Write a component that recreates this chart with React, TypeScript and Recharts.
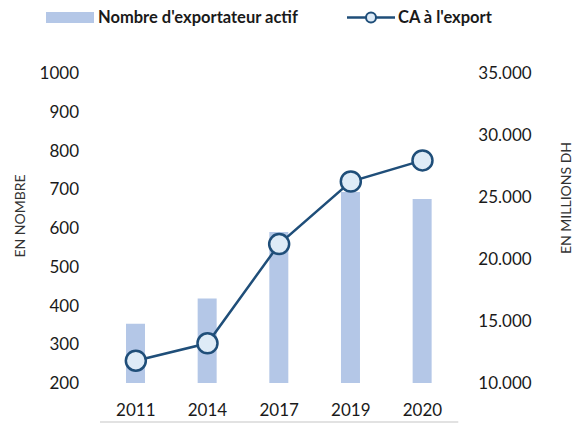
import React from 'react';
import { ComposedChart, Bar, Line, XAxis, YAxis, Label } from 'recharts';

const years = ['2011', '2014', '2017', '2019', '2020'];
const exporterCounts = [353, 418, 590, 693, 675];
const exportRevenue = [11800, 13200, 21200, 26250, 27950];
const leftTicks = [200, 300, 400, 500, 600, 700, 800, 900, 1000];
const rightTicks = [10000, 15000, 20000, 25000, 30000, 35000];
const boundaryTicks = [0, 1, 2, 3, 4, 5];

const barLabel = "Nombre d'exportateur actif";
const lineLabel = "CA à l'export";
const leftTitle = 'EN NOMBRE';
const rightTitle = 'EN MILLIONS DH';

const data = years.map((year, i) => ({
  year,
  exporters: exporterCounts[i],
  revenue: exportRevenue[i],
}));

const FONT = 'Lato, "Open Sans", sans-serif';
const BAR = '#B4C7E7';
const LINE = '#1F4E79';
const DOT = '#DEEBF7';
const AXIS = '#D9D9D9';
const TEXT = '#1a1a1a';

const fmtThousands = (v: number) => {
  const s = String(v);
  return s.replace(/\B(?=(\d{3})+(?!\d))/g, '.');
};

const LegendBox = () => (
  <svg width={574} height={30} style={{ position: 'absolute', left: 0, top: 0 }}>
    <rect x={46} y={12} width={48} height={11} fill={BAR} />
    <text x={98} y={23} fontFamily={FONT} fontWeight={700} fontSize={16.5} fill={TEXT}>
      {barLabel}
    </text>
    <line x1={347} y1={17.5} x2={395} y2={17.5} stroke={LINE} strokeWidth={2.5} />
    <circle cx={371} cy={17.5} r={5} fill={DOT} stroke={LINE} strokeWidth={2} />
    <text x={398} y={23} fontFamily={FONT} fontWeight={700} fontSize={16.5} fill={TEXT}>
      {lineLabel}
    </text>
  </svg>
);

const LeftTitle = (props: any) => {
  const vb = props.viewBox || {};
  const cx = vb.x + 19;
  const cy = vb.y + vb.height / 2 - 12;
  return (
    <text
      x={cx}
      y={cy}
      transform={`rotate(-90, ${cx}, ${cy})`}
      textAnchor="middle"
      dominantBaseline="central"
      fontFamily={FONT}
      fontSize={14}
      fill="#333"
    >
      {leftTitle}
    </text>
  );
};

const RightTitle = (props: any) => {
  const vb = props.viewBox || {};
  const cx = vb.x + vb.width - 9;
  const cy = vb.y + vb.height / 2 - 30;
  return (
    <text
      x={cx}
      y={cy}
      transform={`rotate(-90, ${cx}, ${cy})`}
      textAnchor="middle"
      dominantBaseline="central"
      fontFamily={FONT}
      fontSize={14}
      fill="#333"
    >
      {rightTitle}
    </text>
  );
};

export default function App() {
  return (
    <div style={{ position: 'absolute', left: 0, top: 0, width: 574, height: 423, background: '#fff' }}>
      <LegendBox />
      <ComposedChart
        width={574}
        height={423}
        data={data}
        margin={{ top: 73, right: 0, left: 0, bottom: 0 }}
        barCategoryGap={0}
      >
        <XAxis
          xAxisId="frame"
          type="number"
          domain={[0, years.length]}
          ticks={boundaryTicks}
          allowDataOverflow
          tick={false}
          tickSize={7}
          tickLine={{ stroke: AXIS, strokeWidth: 1.5 }}
          axisLine={{ stroke: AXIS, strokeWidth: 1.5 }}
          height={1}
        />
        <XAxis
          dataKey="year"
          axisLine={false}
          tickLine={false}
          tickSize={0}
          tickMargin={21}
          height={39}
          tick={{ fontFamily: FONT, fontSize: 17, fill: TEXT }}
        />
        <YAxis
          yAxisId="left"
          orientation="left"
          width={100}
          domain={[200, 1000]}
          ticks={leftTicks}
          axisLine={false}
          tickLine={false}
          tickSize={0}
          tickMargin={21}
          tick={{ fontFamily: FONT, fontSize: 17, fill: TEXT }}
        >
          <Label content={<LeftTitle />} />
        </YAxis>
        <YAxis
          yAxisId="right"
          orientation="right"
          width={115.7}
          domain={[10000, 35000]}
          ticks={rightTicks}
          axisLine={false}
          tickLine={false}
          tickSize={0}
          tickMargin={20}
          tickFormatter={fmtThousands}
          tick={{ fontFamily: FONT, fontSize: 17, fill: TEXT }}
        >
          <Label content={<RightTitle />} />
        </YAxis>
        <Bar yAxisId="left" dataKey="exporters" fill={BAR} barSize={19} isAnimationActive={false} />
        <Line
          yAxisId="right"
          dataKey="revenue"
          stroke={LINE}
          strokeWidth={2.5}
          dot={{ r: 10, fill: DOT, stroke: LINE, strokeWidth: 2.5 }}
          activeDot={false}
          isAnimationActive={false}
        />
      </ComposedChart>
    </div>
  );
}
